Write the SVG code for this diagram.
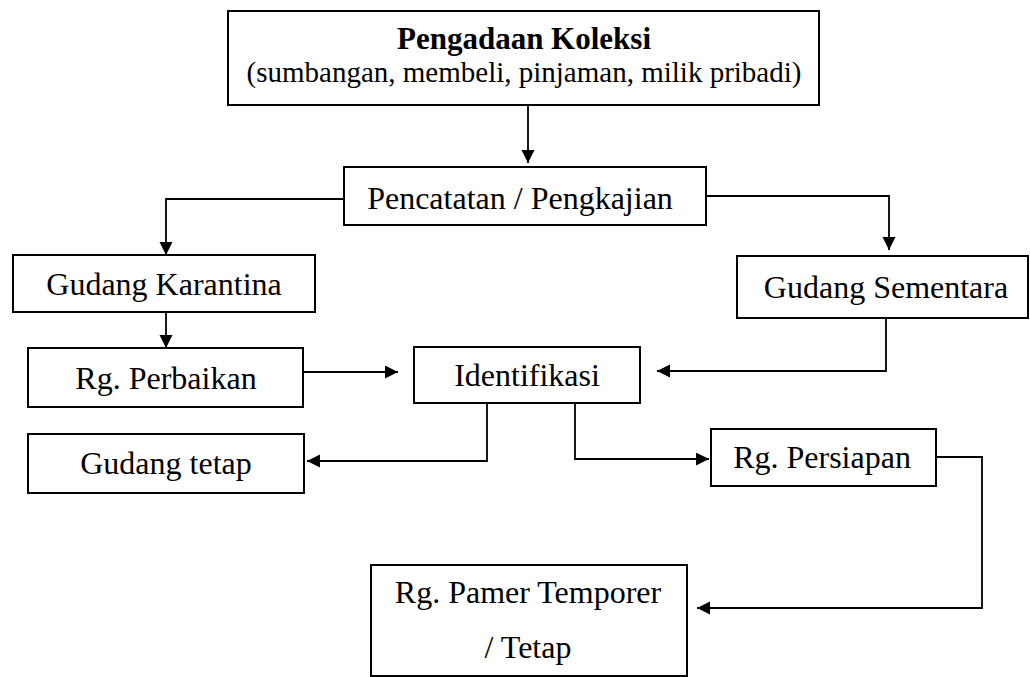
<svg xmlns="http://www.w3.org/2000/svg" width="1030" height="677" viewBox="0 0 1030 677">
<style>
.box{fill:#fff;stroke:#000;stroke-width:2}
.lbl{font-family:"Liberation Serif","Times New Roman",serif;font-size:32px;fill:#000;text-anchor:middle}
.ttl{font-family:"Liberation Serif","Times New Roman",serif;font-size:31px;font-weight:bold;fill:#000;text-anchor:middle}
.sub{font-family:"Liberation Serif","Times New Roman",serif;font-size:29px;fill:#000;text-anchor:middle}
.con{fill:none;stroke:#000;stroke-width:1.8}
</style>
<defs>
<marker id="ah" markerUnits="userSpaceOnUse" markerWidth="14" markerHeight="14" refX="13" refY="6.5" orient="auto">
<path d="M0,0 L13,6.5 L0,13 z" fill="#000"/>
</marker>
</defs>
<rect width="1030" height="677" fill="#fff"/>
<g id="connectors">
<path class="con" d="M528,105 V163" marker-end="url(#ah)"/>
<path class="con" d="M344,199 H166 V255" marker-end="url(#ah)"/>
<path class="con" d="M706,196 H889 V250" marker-end="url(#ah)"/>
<path class="con" d="M166,312 V348" marker-end="url(#ah)"/>
<path class="con" d="M303,372 H398" marker-end="url(#ah)"/>
<path class="con" d="M886,318 V371 H657" marker-end="url(#ah)"/>
<path class="con" d="M487,403 V461 H307" marker-end="url(#ah)"/>
<path class="con" d="M575,403 V459 H709" marker-end="url(#ah)"/>
<path class="con" d="M936,457 H982 V608 H697" marker-end="url(#ah)"/>
</g>
<g id="pengadaan">
<rect class="box" x="228" y="11" width="591" height="94"/>
<text class="ttl" x="524" y="49">Pengadaan Koleksi</text>
<text class="sub" x="524" y="82">(sumbangan, membeli, pinjaman, milik pribadi)</text>
</g>
<g id="pencatatan">
<rect class="box" x="344" y="167" width="362" height="58"/>
<text class="lbl" x="520" y="209">Pencatatan / Pengkajian</text>
</g>
<g id="gudang-karantina">
<rect class="box" x="13" y="255" width="302" height="57"/>
<text class="lbl" x="164" y="295">Gudang Karantina</text>
</g>
<g id="gudang-sementara">
<rect class="box" x="737" y="256" width="291" height="62"/>
<text class="lbl" x="886" y="298">Gudang Sementara</text>
</g>
<g id="rg-perbaikan">
<rect class="box" x="28" y="348" width="275" height="59"/>
<text class="lbl" x="166" y="389">Rg. Perbaikan</text>
</g>
<g id="identifikasi">
<rect class="box" x="414" y="347" width="226" height="56"/>
<text class="lbl" x="527" y="386">Identifikasi</text>
</g>
<g id="gudang-tetap">
<rect class="box" x="28" y="434" width="276" height="59"/>
<text class="lbl" x="166" y="474">Gudang tetap</text>
</g>
<g id="rg-persiapan">
<rect class="box" x="711" y="429" width="225" height="57"/>
<text class="lbl" x="822" y="468">Rg. Persiapan</text>
</g>
<g id="rg-pamer">
<rect class="box" x="371" y="565" width="316" height="111"/>
<text class="lbl" x="528" y="603">Rg. Pamer Temporer</text>
<text class="lbl" x="528" y="658">/ Tetap</text>
</g>
</svg>
